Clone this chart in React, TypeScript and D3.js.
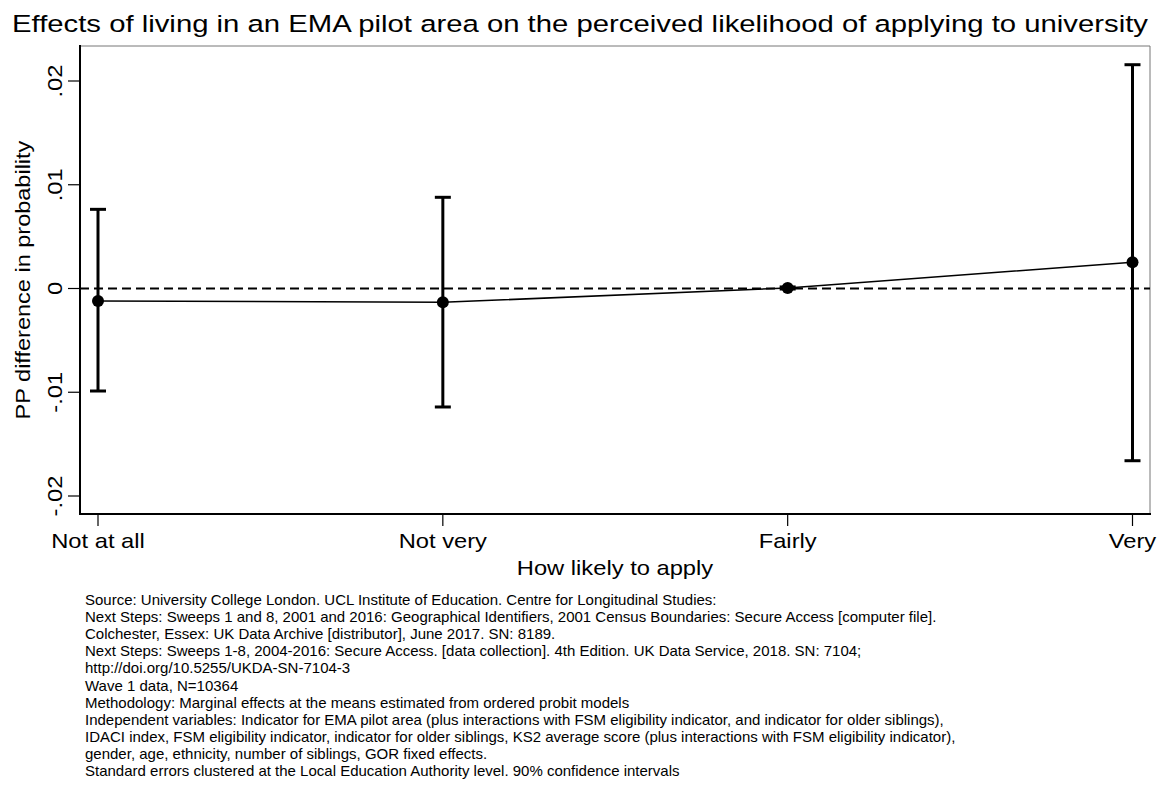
import React from "react";
import * as d3 from "d3";

const categories = ["Not at all", "Not very", "Fairly", "Very"];
const estimates = [-0.0012, -0.00133, 0.00005, 0.00253];
const ciLow = [-0.00988, -0.01142, -0.00005, -0.0166];
const ciHigh = [0.00763, 0.00879, 0.00015, 0.02157];
const yTicks = [-0.02, -0.01, 0, 0.01, 0.02];
const yTickLabels = ["-.02", "-.01", "0", ".01", ".02"];

const title = "Effects of living in an EMA pilot area on the perceived likelihood of applying to university";
const footer = [
  "Source: University College London. UCL Institute of Education. Centre for Longitudinal Studies:",
  "Next Steps: Sweeps 1 and 8, 2001 and 2016: Geographical Identifiers, 2001 Census Boundaries: Secure Access [computer file].",
  "Colchester, Essex: UK Data Archive [distributor], June 2017. SN: 8189.",
  "Next Steps: Sweeps 1-8, 2004-2016: Secure Access. [data collection]. 4th Edition. UK Data Service, 2018. SN: 7104;",
  "http://doi.org/10.5255/UKDA-SN-7104-3",
  "Wave 1 data, N=10364",
  "Methodology: Marginal effects at the means estimated from ordered probit models",
  "Independent variables: Indicator for EMA pilot area (plus interactions with FSM eligibility indicator, and indicator for older siblings),",
  "IDACI index, FSM eligibility indicator, indicator for older siblings, KS2 average score (plus interactions with FSM eligibility indicator),",
  "gender, age, ethnicity, number of siblings, GOR fixed effects.",
  "Standard errors clustered at the Local Education Authority level. 90% confidence intervals",
];

const W = 1161;
const H = 785;
const L = 80, T = 46, R = 1150, B = 514;

export default function App() {
  const x = d3.scalePoint<string>().domain(categories).range([98, 1132.5]);
  const y = d3.scaleLinear().domain([-0.02, 0.02]).range([496, 81]);
  const line = d3
    .line<number>()
    .x((_, i) => x(categories[i]) as number)
    .y((d) => y(d));
  const font = "Liberation Sans, Arial, sans-serif";
  const sx = 1.13;
  return (
    <svg
      width={W}
      height={H}
      style={{ position: "absolute", left: 0, top: 0, background: "#fff" }}
      fontFamily={font}
    >
      <rect x={0} y={0} width={W} height={H} fill="#fff" />
      <text x={12} y={32} fontSize={24.5} fill="#000" textLength={1136} lengthAdjust="spacingAndGlyphs">
        {title}
      </text>
      {/* frame */}
      <line x1={L} y1={T} x2={R} y2={T} stroke="#777" strokeWidth={1} />
      <line x1={R} y1={T} x2={R} y2={B} stroke="#777" strokeWidth={1} />
      <line x1={L} y1={T - 1} x2={L} y2={B + 1} stroke="#000" strokeWidth={2} />
      <line x1={L - 1} y1={B} x2={R + 1} y2={B} stroke="#000" strokeWidth={2} />
      {/* y ticks */}
      {yTicks.map((t, i) => (
        <g key={t}>
          <line x1={68} x2={L} y1={y(t)} y2={y(t)} stroke="#000" strokeWidth={1.2} />
          <text
            transform={`translate(62,${y(t)}) rotate(-90) scale(${sx},1)`}
            textAnchor="middle"
            fontSize={21}
            fill="#000"
          >
            {yTickLabels[i]}
          </text>
        </g>
      ))}
      <text
        transform={`translate(30,${(T + B) / 2}) rotate(-90) scale(1.12,1)`}
        textAnchor="middle"
        fontSize={21}
        fill="#000"
      >
        PP difference in probability
      </text>
      {/* x ticks */}
      {categories.map((c) => (
        <g key={c}>
          <line x1={x(c)} x2={x(c)} y1={B} y2={526} stroke="#000" strokeWidth={1.2} />
          <text
            transform={`translate(${x(c)},548) scale(${sx},1)`}
            textAnchor="middle"
            fontSize={21}
            fill="#000"
          >
            {c}
          </text>
        </g>
      ))}
      <text
        transform={`translate(${(L + R) / 2},575) scale(${sx},1)`}
        textAnchor="middle"
        fontSize={21}
        fill="#000"
      >
        How likely to apply
      </text>
      {/* zero reference */}
      <line
        x1={L}
        x2={R}
        y1={y(0)}
        y2={y(0)}
        stroke="#000"
        strokeWidth={2.2}
        strokeDasharray="9,5"
      />
      {/* line */}
      <path d={line(estimates) ?? ""} fill="none" stroke="#000" strokeWidth={1.6} />
      {/* error bars */}
      {categories.map((c, i) => {
        const cx = x(c) as number;
        return (
          <g key={c} stroke="#000" strokeWidth={3}>
            <line x1={cx} x2={cx} y1={y(ciLow[i])} y2={y(ciHigh[i])} />
            <line x1={cx - 8} x2={cx + 8} y1={y(ciLow[i])} y2={y(ciLow[i])} />
            <line x1={cx - 8} x2={cx + 8} y1={y(ciHigh[i])} y2={y(ciHigh[i])} />
          </g>
        );
      })}
      {categories.map((c, i) => (
        <circle key={c} cx={x(c)} cy={y(estimates[i])} r={6} fill="#000" />
      ))}
      {/* footer */}
      {footer.map((f, i) => (
        <text key={i} x={85} y={605 + i * 17.1} fontSize={15} fill="#000">
          {f}
        </text>
      ))}
    </svg>
  );
}
